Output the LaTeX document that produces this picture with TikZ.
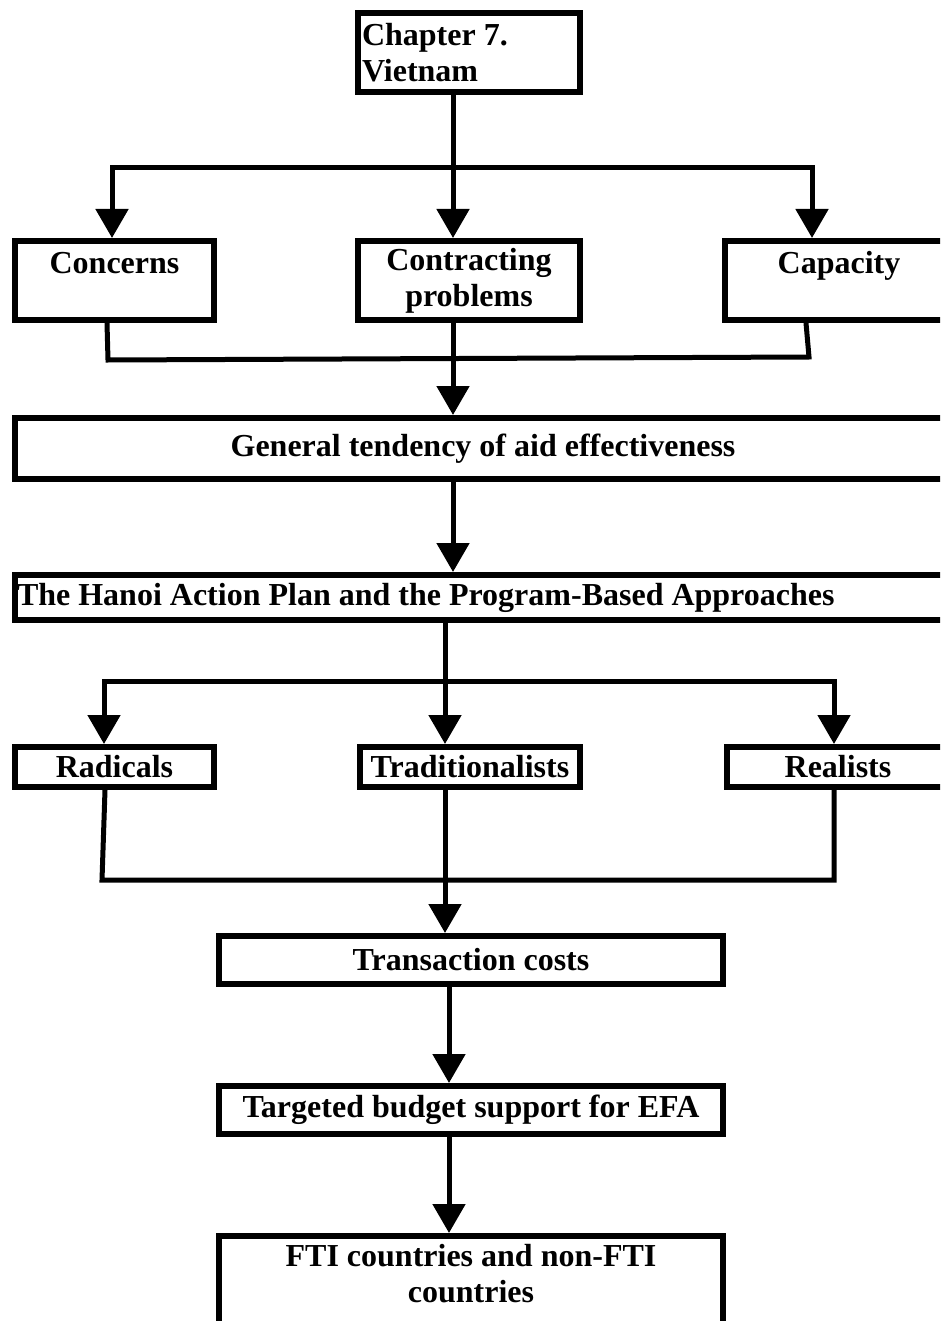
\documentclass[tikz,border=0pt]{standalone}
\usepackage{fontspec}
\setmainfont{Liberation Serif}
\usetikzlibrary{arrows.meta,calc}
\begin{document}
\begin{tikzpicture}[x=1pt,y=-1pt,
  box/.style={draw, line width=6pt, rectangle, inner sep=0pt, anchor=north west,
    font=\fontsize{32}{36}\selectfont\bfseries, align=center},
  link/.style={line width=5pt, line join=miter},
  arr/.style={line width=5pt, line join=miter, -{Triangle[width=32pt,length=29pt]}}
]
\useasboundingbox (0,0) rectangle (940,1321);
\fill[white] (0,0) rectangle (940,1321);
\clip (0,0) rectangle (940,1321);

% boxes (outer size minus the border width)
\node[box, minimum width=222pt, minimum height=79pt, inner xsep=4pt, text width=214pt, align=flush left]
  (chap) at (355,10) {Chapter 7.\\Vietnam};
\node[box, minimum width=199pt, minimum height=79pt] (conc) at (12,238) {Concerns\\\mbox{}};
\node[box, minimum width=222pt, minimum height=79pt] (contr) at (355,238) {Contracting\\problems};
\node[box, minimum width=228pt, minimum height=79pt] (capa) at (722,238) {Capacity\\\mbox{}};
\node[box, minimum width=936pt, minimum height=61pt] (gen) at (12,415) {General tendency of aid effectiveness};
\node[box, minimum width=936pt, minimum height=45pt, inner xsep=1pt, text width=932pt, align=flush left]
  (hanoi) at (12,572) {The Hanoi Action Plan and the Program-Based Approaches};
\node[box, minimum width=199pt, minimum height=40pt] (rad) at (12,744) {Radicals};
\node[box, minimum width=220pt, minimum height=40pt] (trad) at (357,744) {Traditionalists};
\node[box, minimum width=222pt, minimum height=40pt] (real) at (724,744) {Realists};
\node[box, minimum width=504pt, minimum height=48pt] (trans) at (216,933) {Transaction costs};
\node[box, minimum width=504pt, minimum height=48pt] (targ) at (216,1083) {Targeted budget support for EFA};
\node[box, minimum width=504pt, minimum height=110pt] (fti) at (216,1233) {FTI countries and non-FTI\\countries\\\mbox{}};

% junction points
\coordinate (t1) at (453,168);
\coordinate (t1l) at (112,168);
\coordinate (t1r) at (812,168);
\coordinate (c1) at (107,0);
\coordinate (c2) at (806,0);
\coordinate (b1l) at (108,360);
\coordinate (b1r) at (809,357);
\coordinate (t2) at (445,681);
\coordinate (t2l) at (104,681);
\coordinate (t2r) at (834,681);
\coordinate (r1) at (105,0);
\coordinate (b2l) at (102,880);
\coordinate (b2r) at (834,880);
\coordinate (t3) at (449,0);

% chapter -> three topics
\draw[arr] (chap.south -| t1) -- (t1 |- contr.north);
\draw[arr] (t1) -- (t1l) -- (t1l |- conc.north);
\draw[arr] (t1) -- (t1r) -- (t1r |- capa.north);

% topics -> general tendency
\draw[link] (conc.south -| c1) -- (b1l) -- (b1r) -- (capa.south -| c2);
\draw[arr] (contr.south -| t1) -- (t1 |- gen.north);

% general tendency -> Hanoi plan
\draw[arr] (gen.south -| t1) -- (t1 |- hanoi.north);

% Hanoi plan -> three views
\draw[arr] (hanoi.south -| t2) -- (t2 |- trad.north);
\draw[arr] (t2) -- (t2l) -- (t2l |- rad.north);
\draw[arr] (t2) -- (t2r) -- (t2r |- real.north);

% three views -> transaction costs
\draw[link] (rad.south -| r1) -- (b2l) -- (b2r) -- (real.south -| b2r);
\draw[arr] (trad.south -| t2) -- (t2 |- trans.north);

% lower chain
\draw[arr] (trans.south -| t3) -- (targ.north -| t3);
\draw[arr] (targ.south -| t3) -- (fti.north -| t3);
\end{tikzpicture}
\end{document}
